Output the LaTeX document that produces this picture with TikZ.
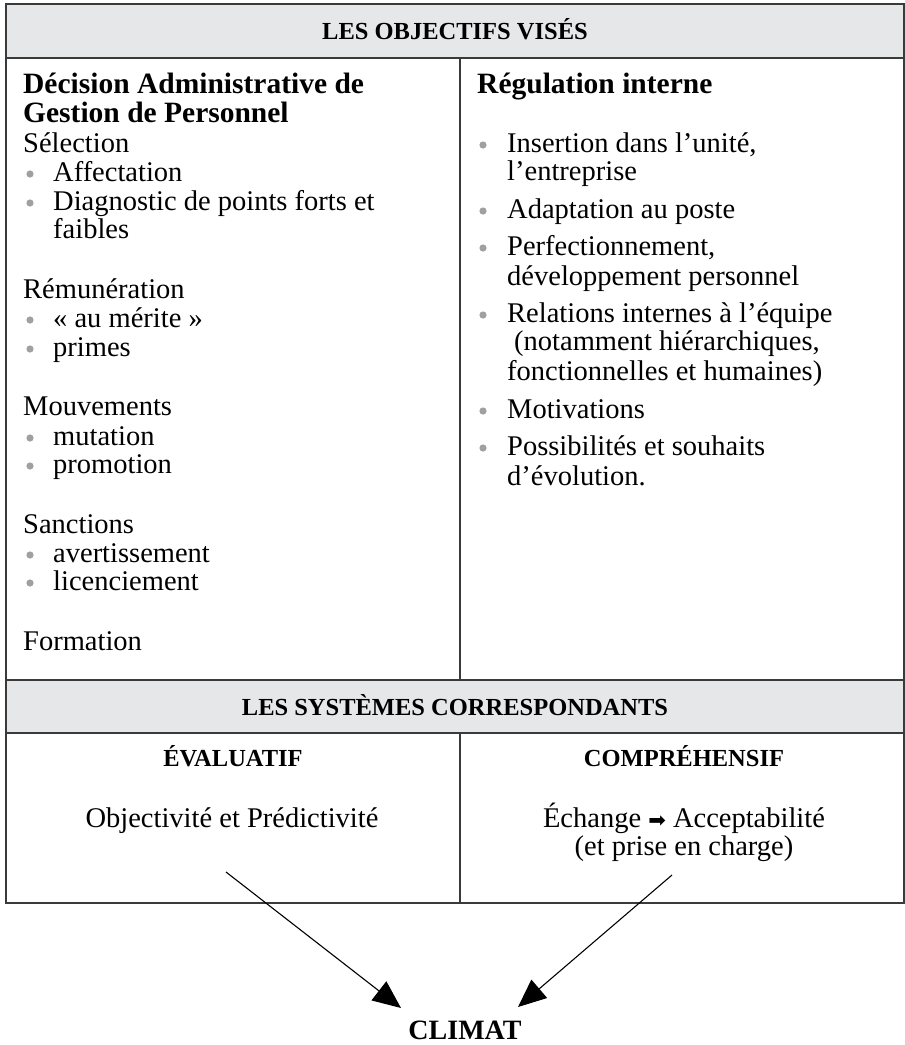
\documentclass[tikz,border=0pt]{standalone}
\usepackage{fontspec}
\setmainfont{Liberation Serif}
\newfontfamily\symfont{DejaVu Sans}
\usetikzlibrary{arrows.meta}
\definecolor{hdrgray}{HTML}{E6E7E8}
\definecolor{linegray}{HTML}{3A3A3A}
\definecolor{bulletgray}{HTML}{A0A0A0}
\begin{document}
\begin{tikzpicture}[x=1pt,y=-1pt,
  txt/.style={anchor=base west, inner sep=0pt, font=\fontsize{28.5}{30}\selectfont},
  boldtxt/.style={anchor=base west, inner sep=0pt, font=\fontsize{29.5}{30}\selectfont\bfseries},
  hdr/.style={anchor=base, inner sep=0pt, font=\fontsize{24.5}{26}\selectfont\bfseries},
  ctr/.style={anchor=base, inner sep=0pt, font=\fontsize{28.5}{30}\selectfont},
  frame/.style={draw=linegray, line width=1.6pt},
  bul/.style={fill=bulletgray},
  arr/.style={draw=black, line width=1.1pt, -{Triangle[length=28pt,width=24pt]}},
]
\useasboundingbox (0,0) rectangle (905,1045);
% header bands
\fill[hdrgray] (6,4) rectangle (904,58);
\fill[hdrgray] (6,680) rectangle (904,733);
% table frame
\draw[frame] (6,4) rectangle (904,903);
\draw[frame] (6,58) -- (904,58);
\draw[frame] (6,680) -- (904,680);
\draw[frame] (6,733) -- (904,733);
\draw[frame] (460,58) -- (460,680);
\draw[frame] (460,733) -- (460,903);

% headers
\node[hdr] (h1) at (455,39) {LES OBJECTIFS VISÉS};
\node[hdr] (h2) at (455,715) {LES SYSTÈMES CORRESPONDANTS};

% left column
\node[boldtxt] (l0) at (23,93) {Décision Administrative de};
\node[boldtxt] (l1) at (23,122.5) {Gestion de Personnel};
\node[txt] (l2) at (23,152) {Sélection};
\node[txt] (l3) at (53,181) {Affectation};
\node[txt] (l4) at (53,210) {Diagnostic de points forts et};
\node[txt] (l5) at (53,238) {faibles};
\node[txt] (l6) at (23,298) {Rémunération};
\node[txt] (l7) at (53,327) {« au mérite »};
\node[txt] (l8) at (53,356) {primes};
\node[txt] (l9) at (23,415) {Mouvements};
\node[txt] (l10) at (53,445) {mutation};
\node[txt] (l11) at (53,473) {promotion};
\node[txt] (l12) at (23,533) {Sanctions};
\node[txt] (l13) at (53,562) {avertissement};
\node[txt] (l14) at (53,590) {licenciement};
\node[txt] (l15) at (23,650) {Formation};
\foreach \y in {181,210,327,356,445,473,562,590}
  \fill[bul] (30,\y-7) circle (3.6);

% right column
\node[boldtxt] (r0) at (477,93) {Régulation interne};
\node[txt] (r1) at (507,152) {Insertion dans l’unité,};
\node[txt] (r2) at (507,180) {l’entreprise};
\node[txt] (r3) at (507,218) {Adaptation au poste};
\node[txt] (r4) at (507,255) {Perfectionnement,};
\node[txt] (r5) at (507,285) {développement personnel};
\node[txt] (r6) at (507,322) {Relations internes à l’équipe};
\node[txt] (r7) at (514,350) {(notamment hiérarchiques,};
\node[txt] (r8) at (507,380) {fonctionnelles et humaines)};
\node[txt] (r9) at (507,418) {Motivations};
\node[txt] (r10) at (507,455) {Possibilités et souhaits};
\node[txt] (r11) at (507,485) {d’évolution.};
\foreach \y in {152,218,255,322,418,455}
  \fill[bul] (483,\y-7) circle (3.6);

% bottom section
\node[hdr] (ev) at (233,766) {ÉVALUATIF};
\node[hdr] (co) at (684,766) {COMPRÉHENSIF};
\node[ctr] (ob) at (232,827) {Objectivité et Prédictivité};
\node[ctr] (ec) at (684,827) {Échange {\symfont\fontsize{21}{21}\selectfont ➡} Acceptabilité};
\node[ctr] (pc) at (684,855) {(et prise en charge)};

% climat
\node[anchor=base, inner sep=0pt, font=\fontsize{28}{30}\selectfont\bfseries] (climat) at (465,1039) {CLIMAT};
\coordinate (s1) at (226,872);
\coordinate (t1) at (401,1008);
\coordinate (s2) at (672,875);
\coordinate (t2) at (518,1007);
\draw[arr] (s1) -- (t1);
\draw[arr] (s2) -- (t2);
\end{tikzpicture}
\end{document}
